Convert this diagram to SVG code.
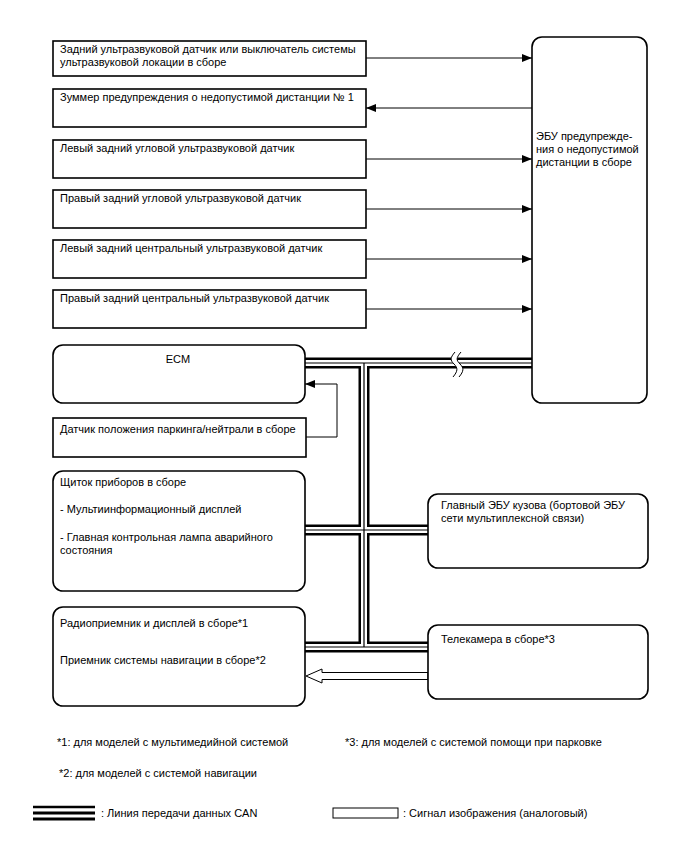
<svg xmlns="http://www.w3.org/2000/svg" width="688" height="852" viewBox="0 0 688 852">
<defs>
<marker id="ah" viewBox="0 0 10 8" refX="10" refY="4" markerWidth="10" markerHeight="8" markerUnits="userSpaceOnUse" orient="auto">
<path d="M0,0 L10,4 L0,8 Z" fill="#000"/>
</marker>
</defs>
<style>
text{font-family:"Liberation Sans",Arial,sans-serif;font-size:11px;fill:#000}
.box{fill:#fff;stroke:#000;stroke-width:1.6}
.sig{fill:none;stroke:#000;stroke-width:1}
.canO{fill:none;stroke:#000;stroke-width:11}
.canW{fill:none;stroke:#fff;stroke-width:6}
.canC{fill:none;stroke:#000;stroke-width:1.2}
</style>
<rect width="688" height="852" fill="#fff"/>

<g id="connectors">
<line class="sig" x1="366" y1="58" x2="532" y2="58" marker-end="url(#ah)"/>
<line class="sig" x1="532" y1="108" x2="366" y2="108" marker-end="url(#ah)"/>
<line class="sig" x1="366" y1="159" x2="532" y2="159" marker-end="url(#ah)"/>
<line class="sig" x1="366" y1="209" x2="532" y2="209" marker-end="url(#ah)"/>
<line class="sig" x1="366" y1="259" x2="532" y2="259" marker-end="url(#ah)"/>
<line class="sig" x1="366" y1="309" x2="532" y2="309" marker-end="url(#ah)"/>
<polyline class="sig" points="306,437 337,437 337,384 305,384" marker-end="url(#ah)"/>
<g id="can-bus">
<path class="canO" d="M305,363 H532 M364,363 V647 M305,530 H428 M305,647 H428"/>
<path class="canW" d="M305,363 H532 M364,363 V647 M305,530 H428 M305,647 H428"/>
<path class="canC" d="M305,363 H532 M364,363 V647 M305,530 H428 M305,647 H428"/>
<path d="M455,352 C450,358 450,360 454,364 C458,368 458,371 453,377 L459,377 C464,371 464,368 460,364 C456,360 456,358 461,352 Z" fill="#fff" stroke="none"/>
<path d="M455,352 C450,358 450,360 454,364 C458,368 458,371 453,377" fill="none" stroke="#000" stroke-width="1"/>
<path d="M461,352 C456,358 456,360 460,364 C464,368 464,371 459,377" fill="none" stroke="#000" stroke-width="1"/>
</g>
<polygon points="428,672.5 322,672.5 322,669 306,676 322,683 322,679.5 428,679.5" fill="#fff" stroke="#000" stroke-width="1"/>
</g>

<g id="rear-sensor-switch">
<rect class="box" x="53" y="41" width="313" height="35"/>
<text x="60" y="53">Задний ультразвуковой датчик или выключатель системы</text>
<text x="60" y="66">ультразвуковой локации в сборе</text>
</g>
<g id="buzzer">
<rect class="box" x="53" y="89" width="313" height="38"/>
<text x="60" y="101">Зуммер предупреждения о недопустимой дистанции № 1</text>
</g>
<g id="left-corner-sensor">
<rect class="box" x="53" y="140" width="313" height="38"/>
<text x="60" y="152">Левый задний угловой ультразвуковой датчик</text>
</g>
<g id="right-corner-sensor">
<rect class="box" x="53" y="190" width="313" height="38"/>
<text x="60" y="202">Правый задний угловой ультразвуковой датчик</text>
</g>
<g id="left-center-sensor">
<rect class="box" x="53" y="240" width="313" height="38"/>
<text x="60" y="252">Левый задний центральный ультразвуковой датчик</text>
</g>
<g id="right-center-sensor">
<rect class="box" x="53" y="290" width="313" height="38"/>
<text x="60" y="302">Правый задний центральный ультразвуковой датчик</text>
</g>
<g id="clearance-ecu">
<rect class="box" x="532" y="37" width="115" height="366" rx="10"/>
<text x="536" y="140">ЭБУ предупрежде-</text>
<text x="536" y="153">ния о недопустимой</text>
<text x="536" y="166">дистанции в сборе</text>
</g>
<g id="ecm">
<rect class="box" x="53" y="345" width="252" height="58" rx="10"/>
<text x="178" y="363" text-anchor="middle">ECM</text>
</g>
<g id="park-neutral-switch">
<rect class="box" x="53" y="418" width="253" height="39"/>
<text x="60" y="433">Датчик положения паркинга/нейтрали в сборе</text>
</g>
<g id="combination-meter">
<rect class="box" x="53" y="471" width="252" height="120" rx="10"/>
<text x="60" y="486">Щиток приборов в сборе</text>
<text x="60" y="513">- Мультиинформационный дисплей</text>
<text x="60" y="541">- Главная контрольная лампа аварийного</text>
<text x="60" y="554">состояния</text>
</g>
<g id="main-body-ecu">
<rect class="box" x="428" y="494" width="220" height="74" rx="10"/>
<text x="441" y="509">Главный ЭБУ кузова (бортовой ЭБУ</text>
<text x="441" y="522">сети мультиплексной связи)</text>
</g>
<g id="radio-navigation">
<rect class="box" x="53" y="607" width="252" height="99" rx="10"/>
<text x="60" y="627">Радиоприемник и дисплей в сборе*1</text>
<text x="60" y="664">Приемник системы навигации в сборе*2</text>
</g>
<g id="camera">
<rect class="box" x="428" y="625" width="220" height="74" rx="10"/>
<text x="441" y="643">Телекамера в сборе*3</text>
</g>

<g id="notes">
<text x="57" y="746">*1: для моделей с мультимедийной системой</text>
<text x="345" y="746">*3: для моделей с системой помощи при парковке</text>
<text x="59" y="777">*2: для моделей с системой навигации</text>
</g>
<g id="legend">
<line x1="33" y1="807" x2="95" y2="807" stroke="#000" stroke-width="2.5"/>
<line x1="33" y1="813" x2="95" y2="813" stroke="#000" stroke-width="3"/>
<line x1="33" y1="819" x2="95" y2="819" stroke="#000" stroke-width="3"/>
<text x="101" y="817">: Линия передачи данных CAN</text>
<rect x="333" y="808" width="65" height="10" fill="#fff" stroke="#000" stroke-width="1"/>
<text x="403" y="817">: Сигнал изображения (аналоговый)</text>
</g>
</svg>
